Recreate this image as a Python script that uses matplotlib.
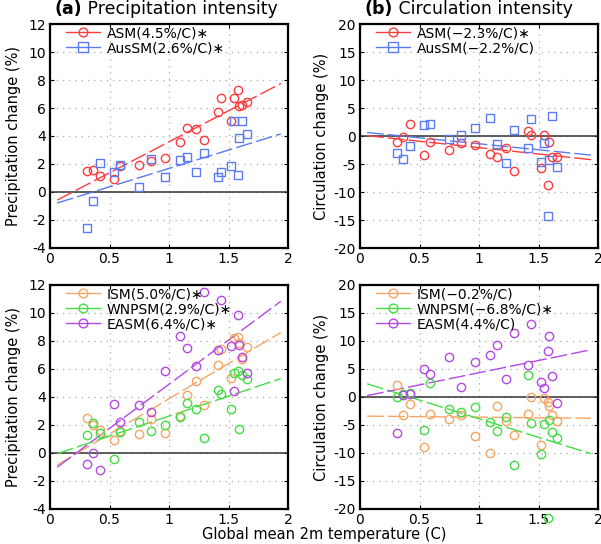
import numpy as np
import matplotlib
matplotlib.use("Agg")
import matplotlib.pyplot as plt
from matplotlib.lines import Line2D

# Global mean 2m temperature change for each model (C)
temp = [0.31, 0.36, 0.42, 0.54, 0.59, 0.745, 0.845, 0.97, 1.09, 1.15,
        1.225, 1.29, 1.41, 1.435, 1.52, 1.55, 1.58, 1.585, 1.61, 1.655]

# (a) Precipitation intensity
asm_pr = [1.48, 1.55, 1.17, 0.95, 1.83, 1.95, 2.19, 2.40, 3.57, 4.57,
          4.48, 3.74, 5.71, 6.69, 5.05, 6.71, 7.26, 6.12, 6.19, 6.40]
aussm_pr = [-2.57, -0.67, 2.07, 1.40, 1.93, 0.33, 2.36, 1.07, 2.26, 2.48,
            1.43, 2.79, 1.07, 1.43, 1.83, 5.10, 1.19, 3.86, 5.05, 4.17]
# (b) Circulation intensity
asm_ci = [-1.01, -0.12, 2.08, -3.33, -1.01, -2.5, -1.19, -1.6, -3.3, -3.7,
          -2.1, -6.3, 0.95, 0.1, -5.65, 0.1, -8.75, -1.0, -3.7, -3.8]
aussm_ci = [-2.98, -4.17, -1.79, 1.90, 2.20, -0.6, 0.24, 1.37, 3.3, -1.5,
            -4.9, 1.0, -2.2, 3.0, -4.7, -1.3, -14.2, -4.35, 3.5, -5.6]
# (c) Precipitation, sub-regions
ism_pr = [2.5, 1.98, 1.67, 0.95, 1.55, 1.36, 2.45, 1.45, 2.65, 4.17,
          5.11, 3.43, 6.28, 7.43, 5.36, 8.21, 8.26, 7.86, 6.74, 7.57]
wnpsm_pr = [1.26, 2.14, 1.43, -0.40, 1.5, 2.21, 1.55, 2.0, 2.58, 3.57,
            3.14, 1.10, 4.5, 4.2, 3.14, 5.68, 5.89, 1.75, 5.55, 5.26]
easm_pr = [-0.79, 0.0, -1.19, 3.5, 2.24, 3.45, 2.95, 5.86, 8.38, 7.52,
           6.18, 11.48, 7.39, 10.92, 7.62, 4.40, 9.83, 7.75, 6.88, 5.72]
# (d) Circulation, sub-regions
ism_ci = [2.15, -3.22, -1.19, -9.0, -2.99, -3.94, -3.22, -6.96, -9.94, -1.52,
          -4.3, -6.78, -2.99, 0.0, -8.6, -0.14, -0.81, -1.61, -3.19, -4.27]
wnpsm_ci = [0.06, 0.48, 0.78, -5.97, 2.45, -2.2, -2.6, -1.79, -4.42, -6.15,
            -3.52, -12.06, 3.88, -4.72, -10.09, -4.84, -21.6, -4.18, -6.2, -7.4]
easm_ci = [-6.5, 0.3, 0.6, 4.96, 4.18, 7.22, 1.73, 6.33, 7.46, 9.37,
           3.16, 11.34, 5.67, 12.96, 2.75, 1.6, 8.18, 10.98, 3.7, -1.07]

labels_a = ["ASM(4.5%/C)\u2217", "AusSM(2.6%/C)\u2217"]
labels_b = ["ASM(\u22122.3%/C)\u2217", "AusSM(\u22122.2%/C)"]
labels_c = ["ISM(5.0%/C)\u2217", "WNPSM(2.9%/C)\u2217", "EASM(6.4%/C)\u2217"]
labels_d = ["ISM(\u22120.2%/C)", "WNPSM(\u22126.8%/C)\u2217", "EASM(4.4%/C)"]

RED = "#ff3b3b"
BLUE = "#5a7cf0"
ORANGE = "#f7a565"
GREEN = "#44dd44"
PURPLE = "#b449e6"

W, H = 601, 544
fig = plt.figure(figsize=(W / 100, H / 100), dpi=100)


def px_axes(l, t, r, b):
    return fig.add_axes([l / W, 1 - b / H, (r - l) / W, (b - t) / H])


ax_a = px_axes(50, 24, 288, 248)
ax_b = px_axes(360, 24, 598, 248)
ax_c = px_axes(50, 285, 288, 509)
ax_d = px_axes(360, 285, 598, 509)

xfit = np.array([0.06, 1.94])


def panel(ax, series, ylim, yticks):
    ax.set_xlim(0, 2)
    ax.set_ylim(*ylim)
    ax.set_xticks([0, 0.5, 1, 1.5, 2])
    ax.set_xticklabels(["0", "0.5", "1", "1.5", "2"])
    ax.set_yticks(yticks)
    ax.set_yticklabels([str(v) for v in yticks])
    ax.grid(True, linestyle=(0, (1, 4)), color="#aaaaaa", linewidth=0.9)
    ax.set_axisbelow(True)
    ax.axhline(0, color="#333333", lw=1.1, zorder=2)
    ax.tick_params(direction="in", length=3, labelsize=10, top=True, right=True,
                   width=0.8, pad=3)
    for s in ax.spines.values():
        s.set_linewidth(1.6)
    handles = []
    for vals, marker, color, lab in series:
        vals = np.asarray(vals, float)
        ax.plot(temp, vals, linestyle="none", marker=marker, ms=6 if marker == "o" else 6.3,
                mfc="none", mec=color, mew=1.0, zorder=3, clip_on=False)
        k, b0 = np.polyfit(temp, vals, 1)
        ax.plot(xfit, k * xfit + b0, color=color, lw=1.0, dashes=(12, 3), zorder=2)
        handles.append(Line2D([0], [0], color=color, lw=1.0, marker=marker,
                              ms=6.3 if marker == "o" else 6.5,
                              mfc="none", mec=color, mew=1.0, label=lab))
    leg = ax.legend(handles=handles, loc="upper left", bbox_to_anchor=(0.06, 1.0),
                    frameon=False, fontsize=10,
                    handlelength=2.4, handletextpad=0.5, labelspacing=0.08,
                    borderaxespad=0.0, borderpad=0.15)
    return leg


panel(ax_a, [(asm_pr, "o", RED, labels_a[0]), (aussm_pr, "s", BLUE, labels_a[1])],
      (-4, 12), list(range(-4, 13, 2)))
panel(ax_b, [(asm_ci, "o", RED, labels_b[0]), (aussm_ci, "s", BLUE, labels_b[1])],
      (-20, 20), list(range(-20, 21, 5)))
panel(ax_c, [(ism_pr, "o", ORANGE, labels_c[0]), (wnpsm_pr, "o", GREEN, labels_c[1]),
             (easm_pr, "o", PURPLE, labels_c[2])],
      (-4, 12), list(range(-4, 13, 2)))
panel(ax_d, [(ism_ci, "o", ORANGE, labels_d[0]), (wnpsm_ci, "o", GREEN, labels_d[1]),
             (easm_ci, "o", PURPLE, labels_d[2])],
      (-20, 20), list(range(-20, 21, 5)))

for ax in (ax_a, ax_c):
    ax.set_ylabel("Precipitation change (%)", fontsize=10.5, labelpad=5)
for ax in (ax_b, ax_d):
    ax.set_ylabel("Circulation change (%)", fontsize=10.5, labelpad=3)


def title(ax, tag, text):
    t1 = ax.text(0.02, 1.025, tag, transform=ax.transAxes, fontsize=12.5,
                 fontweight="bold", ha="left", va="bottom")
    ax.annotate(" " + text, xy=(1, 0), xycoords=t1, fontsize=12.5, ha="left",
                va="bottom")


title(ax_a, "(a)", "Precipitation intensity")
title(ax_b, "(b)", "Circulation intensity")

fig.text(324 / W, 1 - 535 / H, "Global mean 2m temperature (C)", ha="center",
         va="center", fontsize=10.5)

fig.savefig("out.png", dpi=100)
